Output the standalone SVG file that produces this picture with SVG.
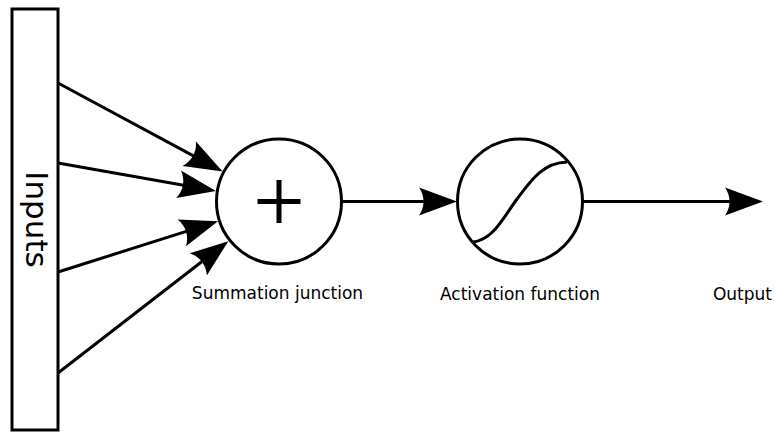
<svg xmlns="http://www.w3.org/2000/svg" width="775" height="432" viewBox="0 0 775 432">
<style>
.s{fill:#fff;stroke:#000;stroke-width:3}
.c{fill:none;stroke:#000;stroke-width:3}
.l{fill:none;stroke:#000;stroke-width:3;marker-end:url(#ah)}
.t{font-family:"DejaVu Sans",sans-serif;font-size:17px;fill:#000}
</style>
<defs>
<marker id="ah" markerUnits="userSpaceOnUse" viewBox="-10 -16 42 32" markerWidth="42" markerHeight="32" refX="0" refY="0" orient="auto">
<path d="M-8,14 L30,0 L-8,-14 C-2,-5.7 -2,5.7 -8,14 Z" fill="#000"/>
</marker>
</defs>
<rect width="775" height="432" fill="#fff"/>
<g id="connectors">
<line class="l" x1="58" y1="83" x2="196.2" y2="157.4"/>
<line class="l" x1="58" y1="163" x2="186.4" y2="185.7"/>
<line class="l" x1="58" y1="272" x2="189.4" y2="230.4"/>
<line class="l" x1="58" y1="373" x2="204.6" y2="259.5"/>
<line class="l" x1="341" y1="201.5" x2="427" y2="201.5"/>
<line class="l" x1="583" y1="201.5" x2="733" y2="201.5"/>
</g>
<g id="inputs">
<rect class="s" x="12" y="9" width="46" height="421"/>
<text class="t" style="font-size:31px" text-anchor="middle" transform="translate(25.5,219.5) rotate(90)">Inputs</text>
</g>
<g id="summation">
<circle class="s" cx="279" cy="201.5" r="62.5"/>
<path d="M257.5,201.5 H300.5 M279,180 V223" stroke="#000" stroke-width="5" fill="none"/>
<text class="t" x="277.5" y="299" text-anchor="middle">Summation junction</text>
</g>
<g id="activation">
<circle class="s" cx="520" cy="201.5" r="62.5"/>
<path class="c" d="M473,242 C493,240 503,218 517,199 C532,179 543,163 567,162"/>
<text class="t" x="520" y="300" text-anchor="middle">Activation function</text>
</g>
<g id="output">
<text class="t" x="742.5" y="300" text-anchor="middle">Output</text>
</g>
</svg>
